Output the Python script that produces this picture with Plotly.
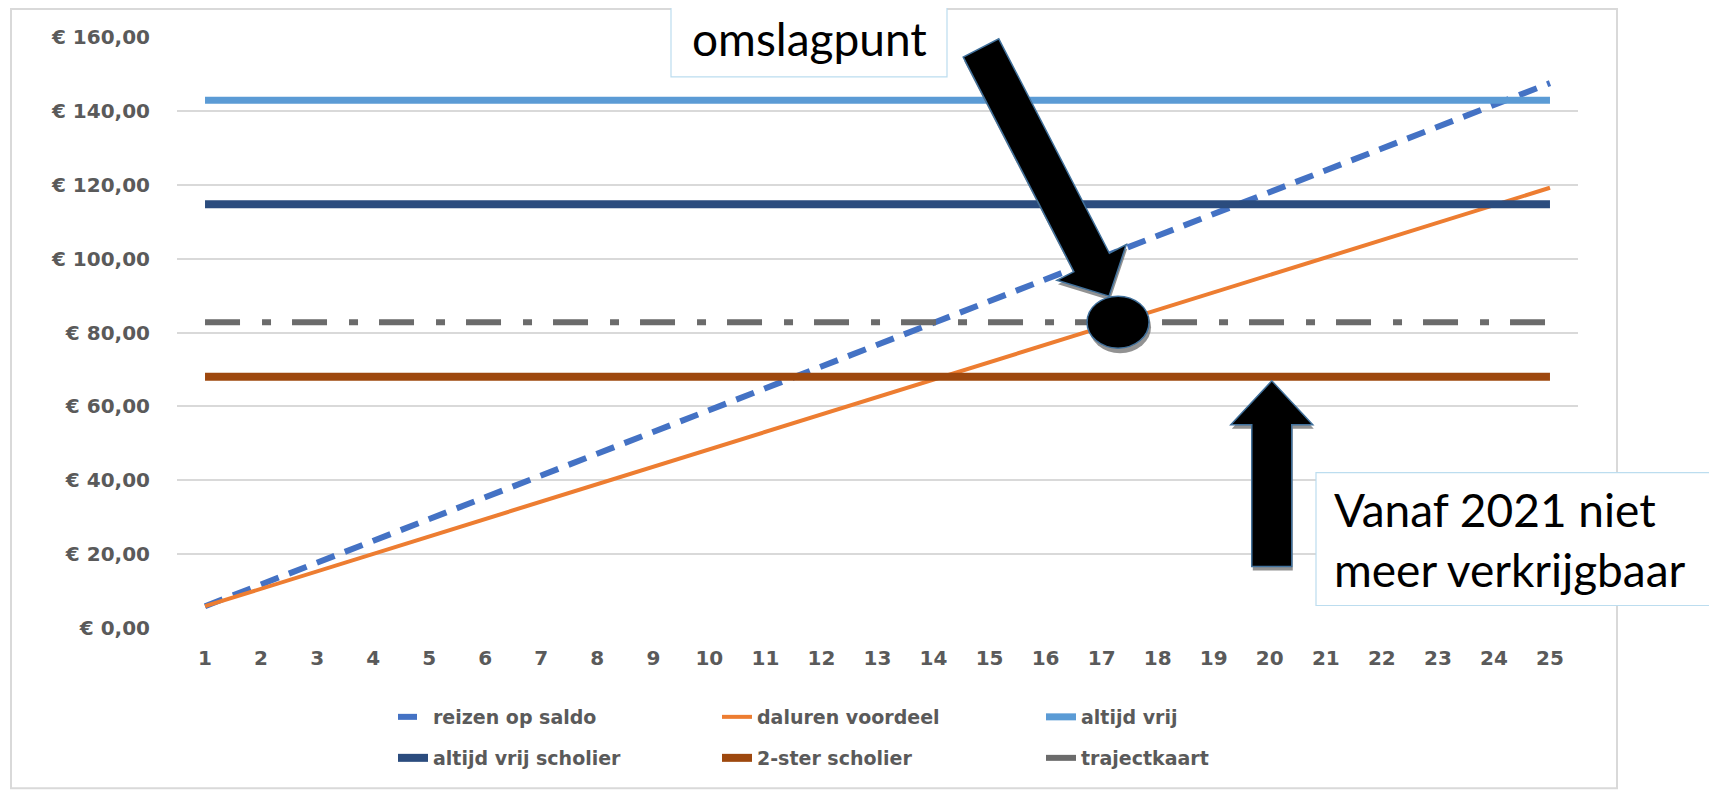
import math
import plotly.graph_objects as go

# ---------------- data ----------------
categories = list(range(1, 26))
x_tick_labels = [str(c) for c in categories]

reizen_op_saldo = [5.90, 11.80, 17.70, 23.60, 29.50, 35.40, 41.30, 47.20, 53.10, 59.00,
                   64.90, 70.80, 76.70, 82.60, 88.50, 94.40, 100.30, 106.20, 112.10, 118.00,
                   123.90, 129.80, 135.70, 141.60, 147.50]
daluren_voordeel = [5.90, 10.62, 15.34, 20.06, 24.78, 29.50, 34.22, 38.94, 43.66, 48.38,
                    53.10, 57.82, 62.54, 67.26, 71.98, 76.70, 81.42, 86.14, 90.86, 95.58,
                    100.30, 105.02, 109.74, 114.46, 119.18]
altijd_vrij = [142.90, 142.90, 142.90, 142.90, 142.90, 142.90, 142.90, 142.90, 142.90, 142.90,
               142.90, 142.90, 142.90, 142.90, 142.90, 142.90, 142.90, 142.90, 142.90, 142.90,
               142.90, 142.90, 142.90, 142.90, 142.90]
altijd_vrij_scholier = [114.70, 114.70, 114.70, 114.70, 114.70, 114.70, 114.70, 114.70, 114.70, 114.70,
                        114.70, 114.70, 114.70, 114.70, 114.70, 114.70, 114.70, 114.70, 114.70, 114.70,
                        114.70, 114.70, 114.70, 114.70, 114.70]
twee_ster_scholier = [68.00, 68.00, 68.00, 68.00, 68.00, 68.00, 68.00, 68.00, 68.00, 68.00,
                      68.00, 68.00, 68.00, 68.00, 68.00, 68.00, 68.00, 68.00, 68.00, 68.00,
                      68.00, 68.00, 68.00, 68.00, 68.00]
trajectkaart = [82.80, 82.80, 82.80, 82.80, 82.80, 82.80, 82.80, 82.80, 82.80, 82.80,
                82.80, 82.80, 82.80, 82.80, 82.80, 82.80, 82.80, 82.80, 82.80, 82.80,
                82.80, 82.80, 82.80, 82.80, 82.80]

y_tick_values = [0, 20, 40, 60, 80, 100, 120, 140, 160]
y_tick_labels = ["€ 0,00", "€ 20,00", "€ 40,00", "€ 60,00", "€ 80,00",
                 "€ 100,00", "€ 120,00", "€ 140,00", "€ 160,00"]

series_names = ["reizen op saldo", "daluren voordeel", "altijd vrij",
                "altijd vrij scholier", "2-ster scholier", "trajectkaart"]

# ---------------- layout geometry ----------------
# the page body has an 8px default margin; the figure is sized to fill the rest of the window
OFF = 8
WIN_W, WIN_H = 1717, 794
W, H = WIN_W - OFF, WIN_H - OFF
PLOT_L, PLOT_R, PLOT_T, PLOT_B = 177, 1578, 37, 628.5   # window pixel coordinates
ML, MT = PLOT_L - OFF, PLOT_T - OFF
MR, MB = WIN_W - PLOT_R, WIN_H - PLOT_B
PW = PLOT_R - PLOT_L
PH = PLOT_B - PLOT_T
X_RANGE = [0.5, 25.5]
Y_RANGE = [0, 160]


def px2paper(px, py):
    return (px - PLOT_L) / PW, (PLOT_B - py) / PH


def data2px(x, y):
    return (PLOT_L + (x - X_RANGE[0]) / (X_RANGE[1] - X_RANGE[0]) * PW,
            PLOT_B - (y - Y_RANGE[0]) / (Y_RANGE[1] - Y_RANGE[0]) * PH)


def arrow_path(tail, tip, shaft_hw, head_hw, head_len, dx=0.0, dy=0.0):
    tx, ty = tail
    hx, hy = tip
    vx, vy = hx - tx, hy - ty
    L = math.hypot(vx, vy)
    ux, uy = vx / L, vy / L
    nx, ny = uy, -ux
    nkx, nky = hx - ux * head_len, hy - uy * head_len
    pts = [
        (tx - nx * shaft_hw, ty - ny * shaft_hw),
        (nkx - nx * shaft_hw, nky - ny * shaft_hw),
        (nkx - nx * head_hw, nky - ny * head_hw),
        (hx, hy),
        (nkx + nx * head_hw, nky + ny * head_hw),
        (nkx + nx * shaft_hw, nky + ny * shaft_hw),
        (tx + nx * shaft_hw, ty + ny * shaft_hw),
    ]
    out = []
    for i, (px, py) in enumerate(pts):
        a, b = px2paper(px + dx, py + dy)
        out.append(("M" if i == 0 else "L") + f"{a:.5f},{b:.5f}")
    return " ".join(out) + " Z"


def box_rect(x0, y0, x1, y1):
    a0, b0 = px2paper(x0, y1)
    a1, b1 = px2paper(x1, y0)
    return dict(type="rect", xref="paper", yref="paper", x0=a0, y0=b0, x1=a1, y1=b1,
                fillcolor="white", line=dict(color="#BCDDEF", width=1.2), layer="above")


# ---------------- figure ----------------
fig = go.Figure()

styles = [
    dict(color="#4472C4", width=6, dash="19px,11px"),
    dict(color="#ED7D31", width=4),
    dict(color="#5B9BD5", width=7),
    dict(color="#2B4C7E", width=8),
    dict(color="#9E480E", width=8),
    dict(color="#6B6B6B", width=6, dash="35px,22px,9px,21px"),
]
values = [reizen_op_saldo, daluren_voordeel, altijd_vrij,
          altijd_vrij_scholier, twee_ster_scholier, trajectkaart]

for i, (name, vals, st) in enumerate(zip(series_names, values, styles)):
    fig.add_trace(go.Scatter(
        x=categories, y=vals, name=name, mode="lines",
        line=st, legend="legend" if i < 3 else "legend2",
        hoverinfo="skip",
    ))

tick_font = dict(family="DejaVu Sans", size=20, color="#5A5A5A", weight="bold")
legend_font = dict(family="DejaVu Sans", size=19, color="#5A5A5A", weight="bold")

LEG_X = 385
fig.update_layout(
    width=W, height=H,
    margin=dict(l=ML, r=MR, t=MT, b=MB, autoexpand=False),
    paper_bgcolor="white", plot_bgcolor="white",
    xaxis=dict(range=X_RANGE, tickvals=categories, ticktext=x_tick_labels,
               showgrid=False, zeroline=False, showline=False, ticks="",
               tickfont=tick_font, ticklabelstandoff=16, automargin=False,
               fixedrange=True),
    yaxis=dict(range=Y_RANGE, tickvals=y_tick_values, ticktext=y_tick_labels,
               showgrid=True, gridcolor="#D9D9D9", gridwidth=2,
               zeroline=False, showline=False, ticks="",
               tickfont=tick_font, ticklabelstandoff=26, automargin=False,
               fixedrange=True),
    legend=dict(orientation="h", xref="container", yref="container",
                x=LEG_X / W, y=1 - (717 - OFF) / H, xanchor="left", yanchor="middle",
                entrywidth=279, entrywidthmode="pixels", font=legend_font,
                bgcolor="rgba(0,0,0,0)", itemclick=False, itemdoubleclick=False),
    legend2=dict(orientation="h", xref="container", yref="container",
                 x=LEG_X / W, y=1 - (758 - OFF) / H, xanchor="left", yanchor="middle",
                 entrywidth=279, entrywidthmode="pixels", font=legend_font,
                 bgcolor="rgba(0,0,0,0)", itemclick=False, itemdoubleclick=False),
    showlegend=True,
)

shapes = []
# chart area border
bx0, by0 = px2paper(11, 789)
bx1, by1 = px2paper(1617, 9)
shapes.append(dict(type="rect", xref="paper", yref="paper", x0=bx0, y0=by0, x1=bx1, y1=by1,
                   line=dict(color="#D9D9D9", width=2), fillcolor="rgba(0,0,0,0)", layer="below"))

# omslagpunt: crossing of daluren voordeel and trajectkaart
cross_x = None
for i in range(len(categories) - 1):
    a0 = daluren_voordeel[i] - trajectkaart[i]
    a1 = daluren_voordeel[i + 1] - trajectkaart[i + 1]
    if a0 <= 0 < a1:
        t = -a0 / (a1 - a0)
        cross_x = categories[i] + t * (categories[i + 1] - categories[i])
        break
cross_y = trajectkaart[0]
cpx, cpy = data2px(cross_x, cross_y)

arrow_line = dict(color="#41719C", width=1.5)
shadow_fill = "rgba(110,110,110,0.75)"

# diagonal arrow towards omslagpunt
tail1 = (981, 48)
tip1 = (cpx - 9, cpy - 26)
shapes.append(dict(type="path", xref="paper", yref="paper",
                   path=arrow_path(tail1, tip1, 20, 39, 38, dx=1, dy=4),
                   fillcolor=shadow_fill, line=dict(width=0), layer="above"))
shapes.append(dict(type="path", xref="paper", yref="paper",
                   path=arrow_path(tail1, tip1, 20, 39, 38),
                   fillcolor="black", line=arrow_line, layer="above"))

# circle at omslagpunt
for off, fill, ln in [((2, 5), shadow_fill, dict(width=0)), ((0, 0), "black", arrow_line)]:
    shapes.append(dict(type="circle", xref="x", yref="y",
                       xsizemode="pixel", ysizemode="pixel",
                       xanchor=cross_x, yanchor=cross_y,
                       x0=-31 + off[0], x1=31 + off[0], y0=-26 - off[1], y1=26 - off[1],
                       fillcolor=fill, line=ln, layer="above"))

# vertical arrow to 2-ster scholier at category 20
vx, vy = data2px(categories[19], twee_ster_scholier[19])
tip2 = (vx + 2, vy + 4)
tail2 = (vx + 2, 567)
shapes.append(dict(type="path", xref="paper", yref="paper",
                   path=arrow_path(tail2, tip2, 20, 41, 44, dx=1, dy=4),
                   fillcolor=shadow_fill, line=dict(width=0), layer="above"))
shapes.append(dict(type="path", xref="paper", yref="paper",
                   path=arrow_path(tail2, tip2, 20, 41, 44),
                   fillcolor="black", line=arrow_line, layer="above"))

# text box frames
shapes.append(box_rect(671, 0.5, 947, 77))
shapes.append(box_rect(1316, 473, 1714, 606))

fig.update_layout(shapes=shapes)

# text box contents
box_font = dict(family="Lato", size=46, color="black")
ox, oy = px2paper(809, 38.5)
fig.add_annotation(xref="paper", yref="paper", x=ox, y=oy, xanchor="center", yanchor="middle",
                   text="omslagpunt", showarrow=False, font=box_font, borderpad=0)
vxp, vyp = px2paper(1333, 540)
fig.add_annotation(xref="paper", yref="paper", x=vxp, y=vyp, xanchor="left", yanchor="middle",
                   text="Vanaf 2021 niet<br>meer verkrijgbaar", showarrow=False, font=box_font,
                   borderpad=0, align="left")

fig.write_html("out.html")
